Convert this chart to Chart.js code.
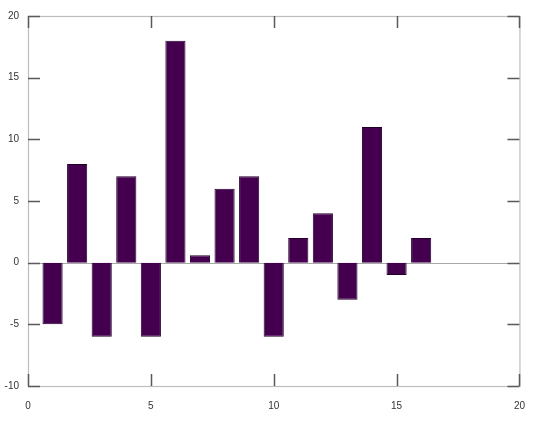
<!DOCTYPE html>
<html>
<head>
<meta charset="utf-8">
<script src="https://cdn.jsdelivr.net/npm/chart.js@4/dist/chart.umd.min.js"></script>
<style>
html,body{margin:0;padding:0;background:#fff;}
#wrap{width:539px;height:422px;}
</style>
</head>
<body>
<div id="wrap"><canvas id="c" width="539" height="422"></canvas></div>
<script>
const xPositions = [1,2,3,4,5,6,7,8,9,10,11,12,13,14,15,16];
const values = [-5,8,-6,7,-6,18,0.6,6,7,-6,2,4,-3,11,-1,2];
const xTicks = [0,5,10,15,20];
const yTicks = [-10,-5,0,5,10,15,20];

const points = xPositions.map((x,i)=>({x:x,y:values[i]}));

const frame = {
  id:'frame',
  beforeDatasetsDraw(chart){
    const ctx=chart.ctx, a=chart.chartArea, y=chart.scales.y;
    const zy=Math.round(y.getPixelForValue(0))+0.5;
    ctx.save();
    ctx.strokeStyle='#a8a8a8'; ctx.lineWidth=1;
    ctx.beginPath(); ctx.moveTo(a.left,zy); ctx.lineTo(a.right,zy); ctx.stroke();
    ctx.restore();
  },
  afterDraw(chart){
    const ctx=chart.ctx, a=chart.chartArea, xs=chart.scales.x, ys=chart.scales.y;
    ctx.save();
    ctx.strokeStyle='#bdbdbd'; ctx.lineWidth=1.2;
    ctx.strokeRect(a.left+0.5,a.top+0.5,a.right-a.left,a.bottom-a.top);
    ctx.strokeStyle='#5a5a5a'; ctx.lineWidth=1.5;
    const L=12;
    ctx.beginPath();
    xTicks.forEach(v=>{
      const px=Math.round(xs.getPixelForValue(v))+0.5;
      ctx.moveTo(px,a.bottom); ctx.lineTo(px,a.bottom-L);
      ctx.moveTo(px,a.top); ctx.lineTo(px,a.top+L);
    });
    yTicks.forEach(v=>{
      const py=Math.round(ys.getPixelForValue(v))+0.5;
      ctx.moveTo(a.left,py); ctx.lineTo(a.left+L,py);
      ctx.moveTo(a.right,py); ctx.lineTo(a.right-L,py);
    });
    ctx.stroke();
    ctx.restore();
  }
};

new Chart(document.getElementById('c'),{
  type:'bar',
  data:{datasets:[{
    data:points,
    backgroundColor:'#44004f',
    borderColor:'#22002a',
    borderWidth:1,
    barPercentage:0.82,
    categoryPercentage:1.0
  }]},
  options:{
    responsive:false,
    animation:false,
    devicePixelRatio:1,
    layout:{padding:{top:16,right:19,left:0,bottom:0}},
    plugins:{legend:{display:false},tooltip:{enabled:false}},
    scales:{
      x:{
        type:'linear',min:0,max:20,offset:false,
        afterBuildTicks(s){ s.ticks = xTicks.map(v=>({value:v})); },
        afterFit(s){ s.height=36; },
        grid:{display:false,drawTicks:false,offset:false},
        border:{display:false},
        ticks:{padding:14,color:'#333',font:{family:'Liberation Sans',size:10}}
      },
      y:{
        min:-10,max:20,
        afterBuildTicks(s){ s.ticks = yTicks.map(v=>({value:v})); },
        afterFit(s){ s.width=28; },
        grid:{display:false,drawTicks:false},
        border:{display:false},
        ticks:{padding:9,color:'#333',font:{family:'Liberation Sans',size:10}}
      }
    }
  },
  plugins:[frame]
});
</script>
</body>
</html>
